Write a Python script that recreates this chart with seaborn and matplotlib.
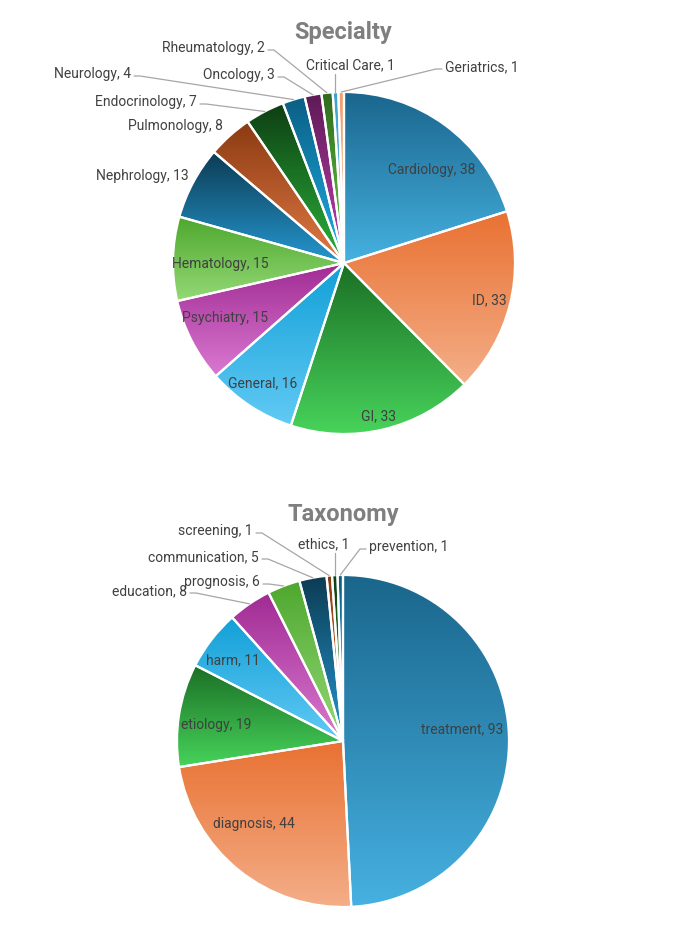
import numpy as np
import matplotlib
matplotlib.use('Agg')
import matplotlib.pyplot as plt
import seaborn as sns
from matplotlib.colors import LinearSegmentedColormap

spec_labels = ['Cardiology', 'ID', 'GI', 'General', 'Psychiatry', 'Hematology', 'Nephrology',
               'Pulmonology', 'Endocrinology', 'Neurology', 'Oncology', 'Rheumatology',
               'Critical Care', 'Geriatrics']
spec_values = [38, 33, 33, 16, 15, 15, 13, 8, 7, 4, 3, 2, 1, 1]

tax_labels = ['treatment', 'diagnosis', 'etiology', 'harm', 'education', 'prognosis',
              'communication', 'screening', 'ethics', 'prevention']
tax_values = [93, 44, 19, 11, 8, 6, 5, 1, 1, 1]

# excel-like gradient per slice: top colour -> bottom colour
grad_top = ['#1a668c', '#e97132', '#1b6f25', '#12a0d7', '#a02b93', '#4ea72e', '#0c3b52',
            '#8b3a12', '#0e3e13', '#0a5f84', '#5e1a56', '#2f6a1e', '#3e9fd0', '#f0a070']
grad_bot = ['#46b1e1', '#f4ae88', '#47d35b', '#62caf5', '#da79d1', '#94d976', '#2597d0',
            '#e07a45', '#2bb33a', '#1fb0e8', '#c341b4', '#6ccf45', '#7fcbef', '#f6c0a0']

# label placement, figure pixels: kind, x, y, leader
spec_pos = [('in', 432, 170, False), ('in', 489, 300, False), ('in', 379, 416, False),
            ('in', 263, 383, False), ('in', 225, 318, False), ('in', 220, 264, False),
            ('L', 189, 176, False), ('L', 223, 126, False), ('L', 197, 102, True),
            ('L', 131, 74, True), ('L', 275, 75, True), ('L', 265, 48, True),
            ('B', 350, 65, True), ('R', 445, 67, True)]
tax_pos = [('in', 462, 729, False), ('in', 254, 824, False), ('in', 216, 725, False),
           ('in', 233, 660, False), ('L', 187, 591, True), ('L', 260, 582, True),
           ('L', 259, 557, True), ('L', 253, 531, True), ('B', 324, 544, True),
           ('R', 369, 547, True)]

W, H = 686, 936
sns.set_theme(style='white')
plt.rcParams['font.family'] = ['Liberation Sans Narrow', 'Roboto', 'DejaVu Sans']

fig = plt.figure(figsize=(W / 100, H / 100), dpi=100)
fig.patch.set_facecolor('white')

grad = np.linspace(0, 1, 256).reshape(-1, 1)
TXT = '#404040'
LINE = '#a6a6a6'


def draw_pie(rect, values, labels, pos, cx, cy, r, row0, row1, title, title_y):
    ax = fig.add_axes(rect)
    wedges, _ = ax.pie(values, startangle=90, counterclock=False, radius=1,
                       colors=grad_top[:len(values)],
                       wedgeprops=dict(edgecolor='white', linewidth=1.6))
    for w, c0, c1 in zip(wedges, grad_top, grad_bot):
        b = w.get_path().get_extents()
        cm = LinearSegmentedColormap.from_list('g', [c0, c1])
        im = ax.imshow(grad, cmap=cm, extent=(b.x0, b.x1, b.y0, b.y1), origin='upper',
                       aspect='auto', zorder=1, interpolation='bilinear')
        im.set_clip_path(w)
        w.set_facecolor('none')
        w.set_zorder(2)

    def d(px, py):
        return (px - cx) / r, (cy - py) / r

    for w, lab, v, (kind, px, py, lead) in zip(wedges, labels, values, pos):
        s = f'{lab}, {v}'
        ang = np.deg2rad((w.theta1 + w.theta2) / 2)
        ex, ey = np.cos(ang), np.sin(ang)
        if kind == 'in':
            ax.text(*d(px, py), s, ha='center', va='center', fontsize=10, color=TXT, zorder=5)
        elif kind == 'L':
            ax.text(*d(px, py), s, ha='right', va='center', fontsize=10, color=TXT, zorder=5)
            if lead:
                p1, p2 = d(px + 3, py + 2), d(px + 9, py + 2)
                ax.plot([p1[0], p2[0], ex], [p1[1], p2[1], ey], color=LINE, lw=0.9, zorder=4)
        elif kind == 'R':
            ax.text(*d(px, py), s, ha='left', va='center', fontsize=10, color=TXT, zorder=5)
            if lead:
                p1, p2 = d(px - 3, py + 2), d(px - 9, py + 2)
                ax.plot([p1[0], p2[0], ex], [p1[1], p2[1], ey], color=LINE, lw=0.9, zorder=4)
        else:
            ax.text(*d(px, py), s, ha='center', va='center', fontsize=10, color=TXT, zorder=5)
            if lead:
                y1 = (cy - (py + 9)) / r
                ax.plot([ex, ex], [y1, ey], color=LINE, lw=0.9, zorder=4)

    ax.text(*d(343, title_y), title, ha='center', va='center', fontsize=17,
            fontweight='bold', color='#7f7f7f')
    ax.set_aspect('auto')
    ax.set_xlim(-cx / r, (W - cx) / r)
    ax.set_ylim((cy - row1) / r, (cy - row0) / r)
    ax.axis('off')


draw_pie([0, 0.5, 1, 0.5], spec_values, spec_labels, spec_pos, 344, 263, 171, 0, 468,
         'Specialty', 33)
draw_pie([0, 0, 1, 0.5], tax_values, tax_labels, tax_pos, 343, 741, 166, 468, 936,
         'Taxonomy', 515)

fig.savefig('out.png', dpi=100)
